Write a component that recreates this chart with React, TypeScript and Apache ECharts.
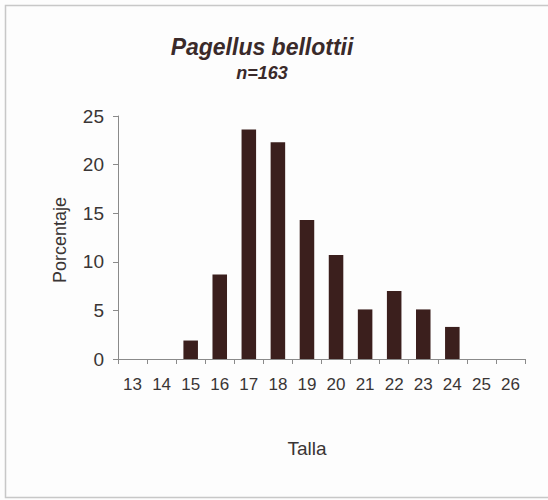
import React, { useEffect, useRef } from "react";
import * as echarts from "echarts";

const categories = ["13", "14", "15", "16", "17", "18", "19", "20", "21", "22", "23", "24", "25", "26"];
const percentages = [0, 0, 1.9, 8.7, 23.6, 22.3, 14.3, 10.7, 5.1, 7.0, 5.1, 3.3, 0, 0];
const yTicks = { min: 0, max: 25, interval: 5 };
const titleText = "Pagellus bellottii";
const subtitleText = "n=163";
const xName = "Talla";
const yName = "Porcentaje";

const FONT = "'Liberation Sans', Arial, sans-serif";

export default function App() {
  const ref = useRef<HTMLDivElement>(null);
  useEffect(() => {
    document.body.style.margin = "0";
    const chart = echarts.init(ref.current!, null, { renderer: "svg" });
    chart.setOption({
      animation: false,
      backgroundColor: "#fdfdfd",
      grid: { left: 118, right: 23, top: 116, bottom: 141, containLabel: false },
      xAxis: {
        type: "category",
        data: categories,
        boundaryGap: true,
        axisLine: { lineStyle: { color: "#8a8a8a", width: 1 } },
        axisTick: { show: true, length: 5, lineStyle: { color: "#8a8a8a" } },
        axisLabel: { color: "#3a3535", fontSize: 17, fontFamily: FONT, margin: 17, interval: 0 },
      },
      yAxis: {
        type: "value",
        min: yTicks.min,
        max: yTicks.max,
        interval: yTicks.interval,
        axisLine: { show: true, lineStyle: { color: "#8a8a8a", width: 1 } },
        axisTick: { show: true, length: 5, lineStyle: { color: "#8a8a8a" } },
        axisLabel: { color: "#3a3535", fontSize: 19, fontFamily: FONT, margin: 14 },
        splitLine: { show: false },
      },
      graphic: [
        {
          type: "rect",
          shape: { x: 5.5, y: 5.5, width: 560, height: 492 },
          style: { fill: "none", stroke: "#c8c8c8", lineWidth: 1.5 },
          silent: true,
        },
        {
          type: "text",
          x: 262,
          y: 47,
          style: {
            text: titleText,
            fontSize: 23,
            fontWeight: "bold",
            fontStyle: "italic",
            fontFamily: FONT,
            fill: "#3a2a2a",
            align: "center",
            verticalAlign: "middle",
          },
        },
        {
          type: "text",
          x: 262,
          y: 73,
          style: {
            text: subtitleText,
            fontSize: 18,
            fontWeight: "bold",
            fontStyle: "italic",
            fontFamily: FONT,
            fill: "#3a2a2a",
            align: "center",
            verticalAlign: "middle",
          },
        },
        {
          type: "text",
          x: 307,
          y: 448,
          style: {
            text: xName,
            fontSize: 19,
            fontFamily: FONT,
            fill: "#3a3535",
            align: "center",
            verticalAlign: "middle",
          },
        },
        {
          type: "text",
          x: 60,
          y: 240,
          rotation: Math.PI / 2,
          style: {
            text: yName,
            fontSize: 18,
            fontFamily: FONT,
            fill: "#3a3535",
            align: "center",
            verticalAlign: "middle",
          },
        },
      ],
      series: [
        {
          type: "bar",
          data: percentages,
          barWidth: "50%",
          itemStyle: { color: "#3b1f1d" },
        },
      ],
    });
    return () => chart.dispose();
  }, []);
  return <div ref={ref} style={{ width: 548, height: 500 }} />;
}
